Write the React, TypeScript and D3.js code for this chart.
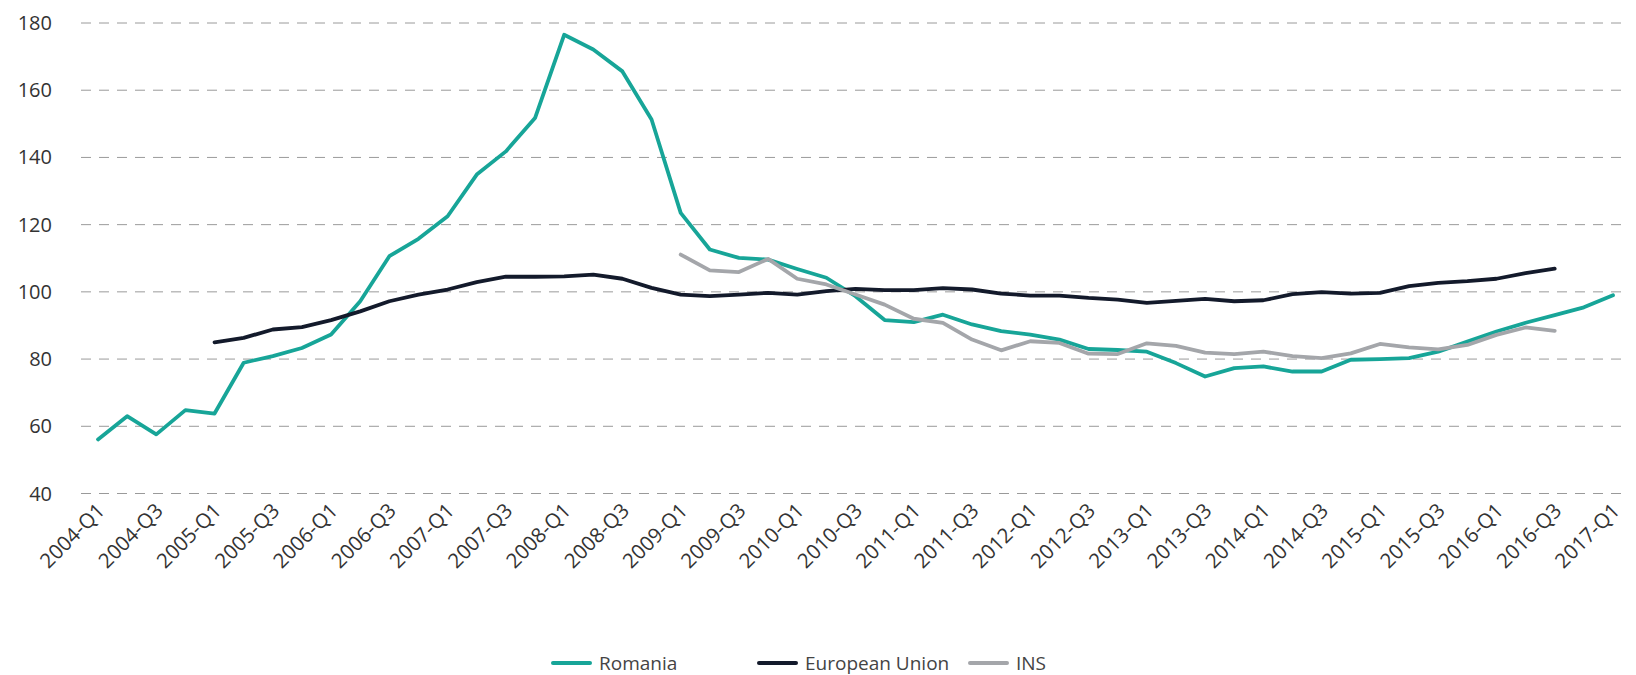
import React from "react";
import {scaleLinear, scalePoint, line} from "d3";

const quarters: string[] = [];
for (let y = 2004; y <= 2017; y++) {
    for (let q = 1; q <= 4; q++) {
        if (y === 2017 && q > 1) break;
        quarters.push(`${y}-Q${q}`);
    }
}

// null = no data for that quarter
const romania: (number | null)[] = [
    56.1, 63.0, 57.6, 64.8, 63.8, 78.9, 80.9, 83.3, 87.3, 97.2, 110.6, 115.8, 122.5,
    134.9, 141.8, 151.7, 176.5, 172.1, 165.6, 151.3, 123.5, 112.6, 110.1, 109.6, 106.8,
    104.2, 98.7, 91.6, 91.0, 93.2, 90.3, 88.3, 87.3, 85.8, 83.0, 82.7, 82.2, 78.8, 74.8,
    77.3, 77.8, 76.3, 76.3, 79.8, 80.0, 80.3, 82.2, 85.2, 88.2, 90.8, 93.1, 95.4, 99.0,
];

const europeanUnion: (number | null)[] = [
    null, null, null, null, 85.0, 86.3, 88.8, 89.5, 91.6, 94.2, 97.2, 99.2, 100.7,
    102.9, 104.5, 104.5, 104.6, 105.1, 103.9, 101.2, 99.2, 98.7, 99.2, 99.7, 99.2,
    100.2, 100.9, 100.5, 100.5, 101.1, 100.7, 99.5, 98.9, 98.9, 98.2, 97.7, 96.7, 97.3,
    97.9, 97.2, 97.5, 99.3, 99.9, 99.5, 99.7, 101.7, 102.7, 103.2, 103.9, 105.6, 106.9,
    null, null,
];

const ins: (number | null)[] = [
    null, null, null, null, null, null, null, null, null, null, null, null, null,
    null, null, null, null, null, null, null, 111.1, 106.4, 105.9, 109.8, 103.9,
    102.2, 99.2, 96.2, 92.0, 90.8, 85.8, 82.6, 85.3, 84.8, 81.6, 81.5, 84.7, 83.9,
    81.9, 81.5, 82.2, 80.9, 80.3, 81.7, 84.5, 83.5, 82.9, 84.2, 87.2, 89.4, 88.4,
    null, null,
];

const yTicks = [40, 60, 80, 100, 120, 140, 160, 180];

const series = [
    {name: "Romania", values: romania, color: "#17a598"},
    {name: "European Union", values: europeanUnion, color: "#131a2b"},
    {name: "INS", values: ins, color: "#a4a6aa"},
];

const width = 1636;
const height = 675;

export default function App() {
    const x = scalePoint<string>().domain(quarters).range([98, 1613]);
    const y = scaleLinear().domain([40, 180]).range([493.5, 23]);
    const gridLeft = 81;
    const gridRight = 1626;

    const labelQuarters = quarters.filter((q) => q.endsWith("Q1") || q.endsWith("Q3"));

    const legendX = [553, 759, 970];

    return (
        <svg
            width={width}
            height={height}
            style={{position: "absolute", left: 0, top: 0, background: "#fff"}}
            fontFamily="'Open Sans', 'Noto Sans', sans-serif"
        >
            {/* grid + y labels */}
            {yTicks.map((t) => (
                <g key={t}>
                    <line
                        x1={gridLeft}
                        x2={gridRight}
                        y1={y(t)}
                        y2={y(t)}
                        stroke="#9a9a9a"
                        strokeWidth={1}
                        strokeDasharray="10,8"
                    />
                    <text
                        x={52}
                        y={y(t)}
                        dy="0.35em"
                        textAnchor="end"
                        fontSize={20}
                        fill="#333"
                    >
                        {t}
                    </text>
                </g>
            ))}

            {/* x labels */}
            {labelQuarters.map((q) => {
                const px = (x(q) || 0) + 8;
                const py = 512;
                return (
                    <text
                        key={q}
                        x={px}
                        y={py}
                        textAnchor="end"
                        fontSize={20.5}
                        fill="#333"
                        transform={`rotate(-45, ${px}, ${py})`}
                    >
                        {q}
                    </text>
                );
            })}

            {/* lines */}
            {series.map((s) => {
                const gen = line<number | null>()
                    .defined((d) => d !== null)
                    .x((d, i) => x(quarters[i]) || 0)
                    .y((d) => y(d as number));
                return (
                    <path
                        key={s.name}
                        d={gen(s.values) || ""}
                        fill="none"
                        stroke={s.color}
                        strokeWidth={3.8}
                        strokeLinejoin="round"
                        strokeLinecap="round"
                    />
                );
            })}

            {/* legend */}
            {series.map((s, i) => (
                <g key={s.name} transform={`translate(${legendX[i]}, 663)`}>
                    <line x1={0} x2={37} y1={0} y2={0} stroke={s.color} strokeWidth={4} strokeLinecap="round" />
                    <text x={46} y={0} dy="0.35em" fontSize={19} fill="#444">
                        {s.name}
                    </text>
                </g>
            ))}
        </svg>
    );
}
